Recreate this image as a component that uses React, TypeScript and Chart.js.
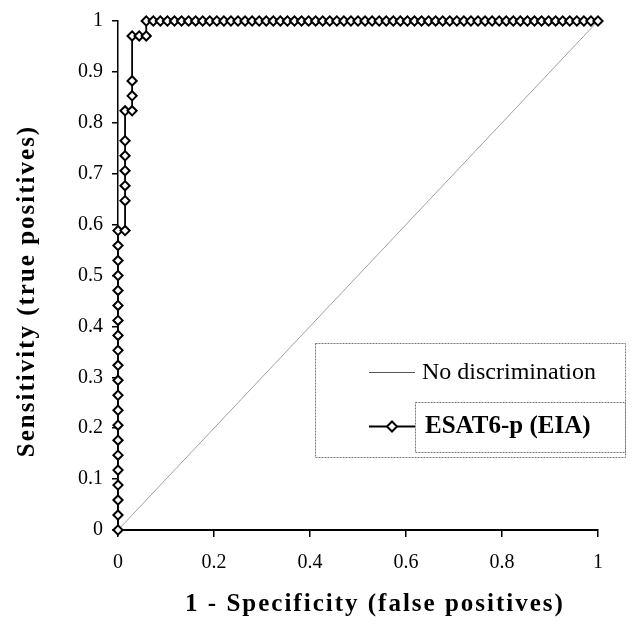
import React, { useEffect, useRef } from 'react';
import { Chart, registerables } from 'chart.js';

Chart.register(...registerables);

// ROC counts: false positives out of N_NEG negatives, true positives out of N_POS positives
const N_NEG = 68;
const N_POS = 34;
const falsePosCounts = [
  0, 0, 0, 0, 0, 0, 0, 0, 0, 0, 0, 0, 0, 0, 0, 0, 0, 0, 0, 0, 0,
  1, 1, 1, 1, 1, 1, 1,
  2, 2, 2, 2,
  3,
  4, 4,
  5, 6, 7, 8, 9, 10, 11, 12, 13, 14, 15, 16, 17, 18, 19, 20, 21, 22, 23, 24, 25, 26, 27, 28, 29, 30,
  31, 32, 33, 34, 35, 36, 37, 38, 39, 40, 41, 42, 43, 44, 45, 46, 47, 48, 49, 50, 51, 52, 53, 54, 55,
  56, 57, 58, 59, 60, 61, 62, 63, 64, 65, 66, 67, 68,
];
const truePosCounts = [
  0, 1, 2, 3, 4, 5, 6, 7, 8, 9, 10, 11, 12, 13, 14, 15, 16, 17, 18, 19, 20,
  20, 22, 23, 24, 25, 26, 28,
  28, 29, 30, 33,
  33,
  33, 34,
  34, 34, 34, 34, 34, 34, 34, 34, 34, 34, 34, 34, 34, 34, 34, 34, 34, 34, 34, 34, 34, 34, 34, 34, 34, 34,
  34, 34, 34, 34, 34, 34, 34, 34, 34, 34, 34, 34, 34, 34, 34, 34, 34, 34, 34, 34, 34, 34, 34, 34, 34,
  34, 34, 34, 34, 34, 34, 34, 34, 34, 34, 34, 34, 34,
];
const diagonalX = [0, 1];
const diagonalY = [0, 1];

const xTickLabels = ['0', '0.2', '0.4', '0.6', '0.8', '1'];
const yTickLabels = ['0', '0.1', '0.2', '0.3', '0.4', '0.5', '0.6', '0.7', '0.8', '0.9', '1'];
const seriesNames = ['No discrimination', 'ESAT6-p (EIA)'];
const xTitle = '1 - Specificity (false positives)';
const yTitle = 'Sensitivity (true positives)';

const SERIF = "'Liberation Serif', 'Times New Roman', serif";

const customDrawPlugin = {
  id: 'customDraw',
  afterDraw(chart: any) {
    const ctx = chart.ctx as CanvasRenderingContext2D;
    ctx.save();
    // axis titles
    ctx.fillStyle = '#000';
    ctx.font = `bold 25px ${SERIF}`;
    (ctx as any).letterSpacing = '2px';
    ctx.textAlign = 'center';
    ctx.textBaseline = 'middle';
    ctx.fillText(xTitle, 375, 605);
    ctx.save();
    ctx.translate(28, 291);
    ctx.rotate(-Math.PI / 2);
    ctx.fillText(yTitle, 0, 0);
    ctx.restore();
    (ctx as any).letterSpacing = '0px';

    // legend box
    ctx.strokeStyle = '#777';
    ctx.lineWidth = 1;
    ctx.setLineDash([2, 1]);
    ctx.strokeRect(315.5, 343.5, 310, 114);
    ctx.strokeRect(415.5, 402.5, 210, 50);
    ctx.setLineDash([]);

    // legend item 1
    ctx.strokeStyle = '#555';
    ctx.lineWidth = 1;
    ctx.beginPath();
    ctx.moveTo(369, 372.5);
    ctx.lineTo(415, 372.5);
    ctx.stroke();
    ctx.fillStyle = '#000';
    ctx.textAlign = 'left';
    ctx.font = `24px ${SERIF}`;
    ctx.fillText(seriesNames[0], 422, 373);

    // legend item 2
    ctx.strokeStyle = '#000';
    ctx.lineWidth = 2;
    ctx.beginPath();
    ctx.moveTo(369, 426.5);
    ctx.lineTo(415, 426.5);
    ctx.stroke();
    ctx.beginPath();
    ctx.moveTo(392 - 5, 426.5);
    ctx.lineTo(392, 421.5);
    ctx.lineTo(392 + 5, 426.5);
    ctx.lineTo(392, 431.5);
    ctx.closePath();
    ctx.fillStyle = '#fff';
    ctx.fill();
    ctx.stroke();
    ctx.fillStyle = '#000';
    ctx.font = `bold 25px ${SERIF}`;
    ctx.fillText(seriesNames[1], 425, 427);
    ctx.restore();
  },
};

export default function App() {
  const canvasRef = useRef<HTMLCanvasElement | null>(null);

  useEffect(() => {
    const canvas = canvasRef.current;
    if (!canvas) return;
    const rocData = falsePosCounts.map((fp, i) => ({ x: fp / N_NEG, y: truePosCounts[i] / N_POS }));
    const diagData = diagonalX.map((x, i) => ({ x, y: diagonalY[i] }));

    const chart = new Chart(canvas, {
      type: 'scatter',
      data: {
        datasets: [
          {
            label: seriesNames[1],
            data: rocData,
            showLine: true,
            borderColor: '#000',
            borderWidth: 1.8,
            pointStyle: 'rectRot',
            pointRadius: 4.6,
            pointBorderWidth: 2,
            pointBackgroundColor: '#fff',
            pointBorderColor: '#000',
            clip: false,
            order: 1,
          } as any,
          {
            label: seriesNames[0],
            data: diagData,
            showLine: true,
            borderColor: '#a0a0a0',
            borderWidth: 1,
            pointRadius: 0,
            clip: false,
            order: 2,
          } as any,
        ],
      },
      options: {
        animation: false,
        responsive: false,
        maintainAspectRatio: false,
        layout: { padding: { top: 17, right: 46, bottom: 0, left: 0 } },
        plugins: { legend: { display: false }, tooltip: { enabled: false } },
        scales: {
          x: {
            type: 'linear',
            min: 0,
            max: 1,
            afterFit: (s: any) => {
              s.height = 102;
            },
            border: { display: true, color: '#000', width: 2 },
            grid: { drawOnChartArea: false, drawTicks: true, tickLength: 7, color: '#000', lineWidth: 1.5 },
            ticks: {
              stepSize: 0.2,
              color: '#000',
              padding: 14,
              maxRotation: 0,
              font: { family: SERIF, size: 20 },
              callback: (_v: any, i: number) => xTickLabels[i],
            },
          },
          y: {
            type: 'linear',
            min: 0,
            max: 1,
            afterFit: (s: any) => {
              s.width = 118;
            },
            border: { display: true, color: '#000', width: 1.5 },
            grid: { drawOnChartArea: false, drawTicks: true, tickLength: 6, color: '#000', lineWidth: 1.5 },
            ticks: {
              stepSize: 0.1,
              color: '#000',
              padding: 9,
              font: { family: SERIF, size: 20 },
              callback: (_v: any, i: number) => yTickLabels[i],
            },
          },
        },
      },
      plugins: [customDrawPlugin],
    });
    return () => chart.destroy();
  }, []);

  return (
    <div style={{ position: 'absolute', left: 0, top: 0, width: 644, height: 632, background: '#fff' }}>
      <canvas ref={canvasRef} width={644} height={632} style={{ width: 644, height: 632, display: 'block' }} />
    </div>
  );
}
